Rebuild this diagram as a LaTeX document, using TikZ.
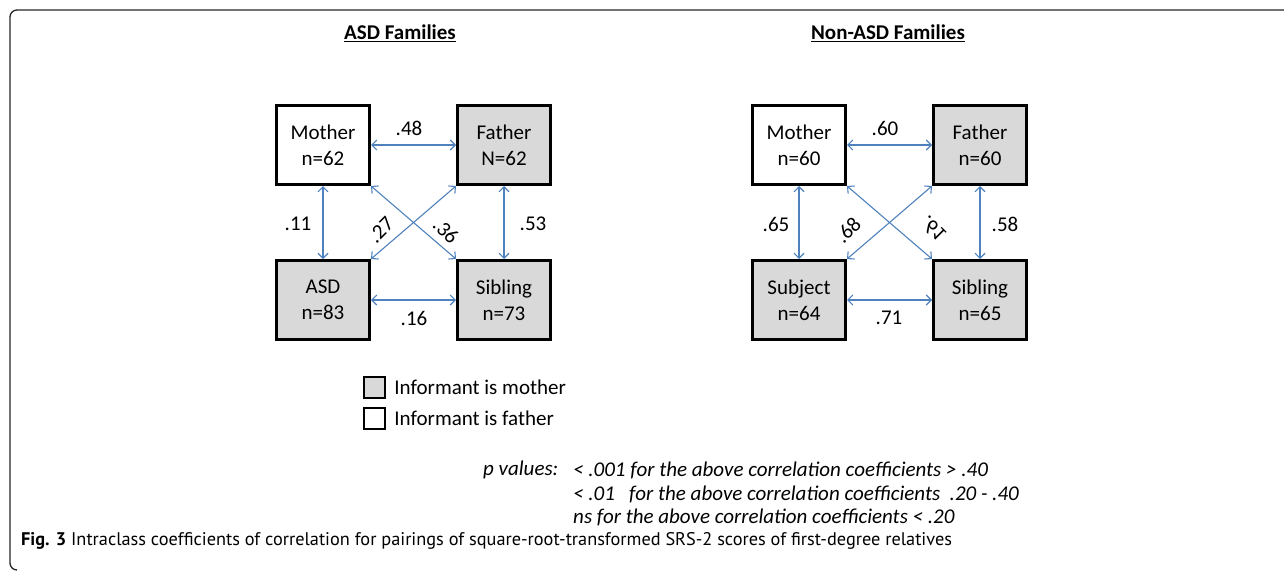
\documentclass[tikz,border=0pt]{standalone}
\usepackage{fontspec}
\setmainfont{Carlito}
\newfontfamily\capfont{PT Sans}
\usepackage{xcolor}
\usepackage{tikz}
\usetikzlibrary{positioning, calc, arrows.meta}
\definecolor{corrblue}{RGB}{79, 129, 189}
\definecolor{boxgray}{RGB}{217, 217, 217}
\tikzset{
    famnode/.style={
        draw=black, line width=3pt, minimum width=93pt, minimum height=79pt,
        align=center, font=\fontsize{21}{26}\selectfont, inner sep=0pt
    },
    mothernode/.style={
        famnode, fill=boxgray
    },
    fathernode/.style={
        famnode, fill=white
    },
    corrarrow/.style={
        {Straight Barb[length=5pt, width=10pt]}-{Straight Barb[length=5pt, width=10pt]},
        line width=1.1pt, corrblue
    },
    corrlabel/.style={
        font=\fontsize{21}{26}\selectfont, inner sep=0pt
    }
}

\begin{document}
\begin{tikzpicture}[
        x=1pt, y=-1pt,
        % titles
        famtitle/.style={font=\bfseries\fontsize{21}{26}\selectfont, inner sep=0pt},
        % legend
        legendbox/.style={draw=black, line width=2.5pt, minimum size=21pt, inner sep=0pt},
        legendtext/.style={font=\fontsize{21}{26}\selectfont, inner sep=0pt, anchor=west},
        pnote/.style={font=\itshape\fontsize{21}{24}\selectfont, inner sep=0pt, anchor=west}
    ]
        \useasboundingbox (0,0) rectangle (1284,571);

        % frame
        \draw[line width=1.3pt, black!85, rounded corners=7pt] (1284,10) -- (10,10) -- (10,570) -- (17,570);

        % ==========================================
        % ASD FAMILIES
        % ==========================================
        \node[famtitle] (asdtitle) at (400,33) {\underline{ASD Families}};

        \node[fathernode] (asdmother) at (323,145) {Mother\\n=62};
        \node[mothernode] (asdfather) at (504,145) {Father\\N=62};
        \node[mothernode] (asdchild) at (323,300) {ASD\\n=83};
        \node[mothernode] (asdsib) at (504,300) {Sibling\\n=73};

        \draw[corrarrow] (asdmother.east) -- (asdfather.west);
        \draw[corrarrow] (asdchild.east) -- (asdsib.west);
        \draw[corrarrow] (asdmother.south) -- (asdchild.north);
        \draw[corrarrow] (asdfather.south) -- (asdsib.north);
        \draw[corrarrow] (asdmother.south east) -- (asdsib.north west);
        \draw[corrarrow] (asdfather.south west) -- (asdchild.north east);

        \node[corrlabel] (asdmf) at (409,128) {.48};
        \node[corrlabel] (asdcs) at (414,318) {.16};
        \node[corrlabel] (asdmc) at (298,224) {.11};
        \node[corrlabel] (asdfs) at (533,224) {.53};
        \node[corrlabel, rotate=45] (asdfc) at (381,230) {.27};
        \node[corrlabel, rotate=-45] (asdms) at (446,231) {.36};

        % ==========================================
        % NON-ASD FAMILIES
        % ==========================================
        \node[famtitle] (nontitle) at (888,33) {\underline{Non-ASD Families}};

        \node[fathernode] (nonmother) at (799,145) {Mother\\n=60};
        \node[mothernode] (nonfather) at (980,145) {Father\\n=60};
        \node[mothernode] (nonchild) at (799,300) {Subject\\n=64};
        \node[mothernode] (nonsib) at (980,300) {Sibling\\n=65};

        \draw[corrarrow] (nonmother.east) -- (nonfather.west);
        \draw[corrarrow] (nonchild.east) -- (nonsib.west);
        \draw[corrarrow] (nonmother.south) -- (nonchild.north);
        \draw[corrarrow] (nonfather.south) -- (nonsib.north);
        \draw[corrarrow] (nonmother.south east) -- (nonsib.north west);
        \draw[corrarrow] (nonfather.south west) -- (nonchild.north east);

        \node[corrlabel] (nonmf) at (885,128) {.60};
        \node[corrlabel] (noncs) at (889,318) {.71};
        \node[corrlabel] (nonmc) at (776,224) {.65};
        \node[corrlabel] (nonfs) at (1005,224) {.58};
        \node[corrlabel, rotate=45] (nonfc) at (848,230) {.68};
        \node[corrlabel, rotate=-45] (nonms) at (933,229) {\scalebox{1}[-1]{.61}};

        % ==========================================
        % LEGEND + P VALUES
        % ==========================================
        \node[legendbox, fill=boxgray] (legmother) at (374.5,387.5) {};
        \node[legendbox, fill=white] (legfather) at (374.5,418.5) {};
        \node[legendtext, right=8pt of legmother] (legmothertxt) {Informant is mother};
        \node[legendtext, right=8pt of legfather] (legfathertxt) {Informant is father};

        \node[pnote] (plabel) at (483,470) {p values:};
        \node[pnote] (pone) at (573,470) {< .001 for the above correlation coefficients > .40};
        \node[pnote] (ptwo) at (573,494) {< .01 \ \ for the above correlation coefficients \ .20 - .40};
        \node[pnote] (pthree) at (573,517) {ns for the above correlation coefficients < .20};

        % caption
        \node[anchor=west, inner sep=0pt, font=\capfont\fontsize{18.3}{22}\selectfont] (caption) at (21,541)
            {\textbf{Fig. 3} Intraclass coefficients of correlation for pairings of square-root-transformed SRS-2 scores of first-degree relatives};

    \end{tikzpicture}
\end{document}
